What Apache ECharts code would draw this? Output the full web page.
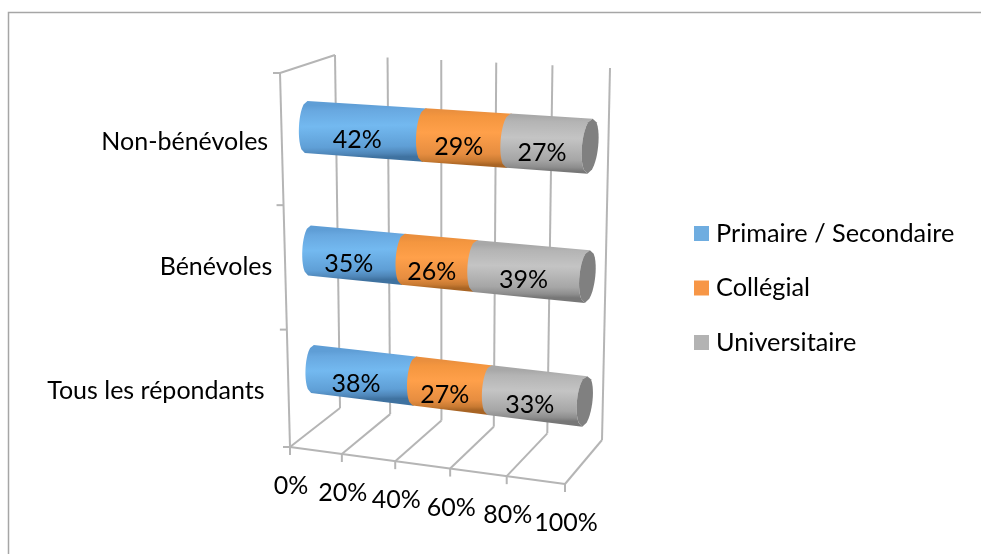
<!DOCTYPE html>
<html>
<head>
<meta charset="utf-8">
<style>
  html, body { margin: 0; padding: 0; background: #fff; }
  #chart { width: 981px; height: 554px; }
</style>
<script src="https://cdn.jsdelivr.net/npm/echarts@6/dist/echarts.min.js"></script>
</head>
<body>
<div id="chart"></div>
<script>
const categories = ['Tous les répondants', 'Bénévoles', 'Non-bénévoles']
const primaire = [38, 35, 42]
const collegial = [27, 26, 29]
const universitaire = [33, 39, 27]
const xTicks = [0, 20, 40, 60, 80, 100]
const xTickLabels = ['0%', '20%', '40%', '60%', '80%', '100%']

const FONT = 'Lato, "Noto Sans", sans-serif'
const GRID = { left: 300, top: 70, width: 300, height: 400 }

// perspective: unit square -> quad (tl, tr, br, bl)
const makeQuad = (tl, tr, br, bl) => {
  const dx1 = tr[0] - br[0], dx2 = bl[0] - br[0], sx = tl[0] - tr[0] + br[0] - bl[0]
  const dy1 = tr[1] - br[1], dy2 = bl[1] - br[1], sy = tl[1] - tr[1] + br[1] - bl[1]
  const det = dx1 * dy2 - dx2 * dy1
  const g = (sx * dy2 - dx2 * sy) / det
  const h = (dx1 * sy - sx * dy1) / det
  const a = tr[0] - tl[0] + g * tr[0], b = bl[0] - tl[0] + h * bl[0]
  const d = tr[1] - tl[1] + g * tr[1], e = bl[1] - tl[1] + h * bl[1]
  return (u, v) => {
    const w = g * u + h * v + 1
    return [(a * u + b * v + tl[0]) / w, (d * u + e * v + tl[1]) / w]
  }
}

const barPlane = makeQuad([304.5, 63.5], [591.5, 79], [583.5, 462], [314, 426.5])
const backWall = makeQuad([335, 55], [610, 68], [602, 440], [340, 408])
const floor = makeQuad([340, 408], [602, 440], [565, 484], [290, 447])
const sideWall = makeQuad([280, 73], [335, 55], [340, 408], [290, 447])

const toUnit = p => [(p[0] - GRID.left) / GRID.width, (p[1] - GRID.top) / GRID.height]

const line = (a, b) => ({
  type: 'line',
  shape: { x1: a[0], y1: a[1], x2: b[0], y2: b[1] },
  style: { stroke: '#b5b5b5', lineWidth: 2 }
})

const text = (str, x, y, align) => ({
  type: 'text',
  x, y,
  z2: 10,
  style: { text: str, fontFamily: FONT, fontSize: 25, fill: '#000', align: align || 'center', verticalAlign: 'middle' }
})

const renderFrame = (params, api) => {
  const u = toUnit(api.coord([api.value(0), 0]))[0]
  const back0 = backWall(u, 0), back1 = backWall(u, 1)
  const floorFront = floor(u, 1)
  return {
    type: 'group',
    children: [
      line(back0, back1),
      line(back1, floorFront),
      line(floorFront, [floorFront[0], floorFront[1] + 8]),
      text(xTickLabels[params.dataIndex], floorFront[0] + 1, floorFront[1] + 39)
    ]
  }
}

// left wall, floor edge and the category labels
const catLabelOffset = [[-48, 22], [-37, 16], [-38, 15]]
const renderWalls = (params, api) => {
  const children = [
    line(sideWall(0, 0), sideWall(1, 0)),
    line(sideWall(0, 0), sideWall(0, 1)),
    line(floor(0, 1), floor(1, 1))
  ]
  for (let i = 0; i <= categories.length; i++) {
    const p = sideWall(0, 1 - i / categories.length)
    children.push(line([p[0] - 7, p[1]], p))
  }
  categories.forEach((name, c) => {
    const uv = toUnit(api.coord([0, c]))
    const p = barPlane(uv[0], uv[1])
    children.push(text(name, p[0] + catLabelOffset[c][0], p[1] + catLabelOffset[c][1], 'right'))
  })
  return { type: 'group', children }
}

const stops = list => list.map(s => ({ offset: s[0], color: s[1] }))
const shades = {
  blue: stops([[0, '#5f9ed6'], [0.1, '#68a8e0'], [0.4, '#73b9f0'], [0.8, '#5f9fd6'], [0.93, '#4f86b8'], [1, '#3f72a0']]),
  orange: stops([[0, '#ea8f3e'], [0.1, '#f4963f'], [0.4, '#ffa04a'], [0.8, '#e68d40'], [0.93, '#c87a32'], [1, '#a86424']]),
  gray: stops([[0, '#a8a8a8'], [0.1, '#b4b4b4'], [0.4, '#c4c4c4'], [0.8, '#a6a6a6'], [0.93, '#8e8e8e'], [1, '#777777']])
}

const renderSegment = (shade, isLast) => (params, api) => {
  const band = api.size([0, 1])[1]
  const unitX = api.size([1, 0])[0]
  const halfH = band * 0.207
  const bulge = unitX * 2.7
  const cat = api.value(2)

  const at = (val, dy) => {
    const p = api.coord([val, cat])
    const uv = toUnit([p[0], p[1] + dy])
    return barPlane(uv[0], uv[1])
  }
  // point on the round edge of the cylinder, t from -1 (top) to 1 (bottom)
  const rim = (val, t) => {
    const s = Math.sqrt(Math.max(0, 1 - t * t))
    const p = api.coord([val, cat])
    const uv = toUnit([p[0] - s * bulge, p[1] + t * halfH])
    const q = barPlane(uv[0], uv[1])
    return [q[0] - t * 2, q[1]]
  }

  const start = api.value(0), end = api.value(1)
  // a little overlap under the next segment, no hairline at the seam
  const rightEdge = isLast ? end : end + 0.5
  const points = []
  const steps = 14
  for (let i = 0; i <= steps; i++) points.push(rim(start, -1 + 2 * i / steps))
  for (let i = 0; i <= steps; i++) points.push(rim(rightEdge, 1 - 2 * i / steps))

  const mid = (start + end) / 2
  const topP = at(mid, -halfH), botP = at(mid, halfH)
  const centre = at(mid, 0)
  const children = [{
    type: 'polygon',
    shape: { points },
    style: {
      fill: new echarts.graphic.LinearGradient(topP[0], topP[1], botP[0], botP[1], shade, true)
    }
  }]
  if (isLast) {
    const cap = []
    for (let i = 0; i <= steps; i++) cap.push(rim(end, -1 + 2 * i / steps))
    for (let i = 0; i <= steps; i++) {
      const t = 1 - 2 * i / steps
      const r = rim(end, t), l = at(end, t * halfH)
      cap.push([2 * l[0] - r[0] - 4 * t, r[1]])
    }
    children.push({ type: 'polygon', shape: { points: cap }, style: { fill: '#808080' } })
  }
  children.push(text(api.value(3) + '%', centre[0] - 7, centre[1] + 9))
  return { type: 'group', children }
}

// bars are 100% stacked, the labels keep the rounded values
const stacked = (values, before) => values.map((v, c) => {
  const total = primaire[c] + collegial[c] + universitaire[c]
  const base = before.reduce((sum, arr) => sum + arr[c], 0)
  return [base / total * 100, (base + v) / total * 100, c, v]
})

const makeSeries = (name, values, before, color, shade, isLast) => ({
  name,
  type: 'custom',
  coordinateSystem: 'cartesian2d',
  clip: false,
  silent: true,
  z: 5,
  itemStyle: { color },
  encode: { x: [0, 1], y: 2 },
  data: stacked(values, before),
  renderItem: renderSegment(shade, isLast)
})

const chart = echarts.init(document.getElementById('chart'))

chart.setOption({
  animation: false,
  backgroundColor: '#fff',
  graphic: [{
    type: 'rect',
    shape: { x: 8.5, y: 12.5, width: 1000, height: 600 },
    style: { fill: 'none', stroke: '#a6a6a6', lineWidth: 1.5 },
    silent: true
  }],
  grid: GRID,
  xAxis: { type: 'value', min: 0, max: 100, interval: 20, show: false },
  yAxis: { type: 'category', data: categories, show: false },
  legend: {
    data: ['Primaire / Secondaire', 'Collégial', 'Universitaire'],
    orient: 'vertical',
    left: 689,
    top: 216,
    itemWidth: 15,
    itemHeight: 15,
    itemGap: 29.5,
    icon: 'rect',
    selectedMode: false,
    textStyle: { fontFamily: FONT, fontSize: 25.3, color: '#000', padding: [0, 0, 0, 2] }
  },
  series: [
    {
      name: 'frame',
      type: 'custom',
      coordinateSystem: 'cartesian2d',
      clip: false,
      silent: true,
      z: 1,
      encode: { x: 0, y: 1 },
      data: xTicks.map(t => [t, 0]),
      renderItem: renderFrame
    },
    {
      name: 'walls',
      type: 'custom',
      coordinateSystem: 'cartesian2d',
      clip: false,
      silent: true,
      z: 1,
      encode: { x: 0, y: 1 },
      data: [[0, 0]],
      renderItem: renderWalls
    },
    makeSeries('Primaire / Secondaire', primaire, [], '#6fade0', shades.blue, false),
    makeSeries('Collégial', collegial, [primaire], '#f79646', shades.orange, false),
    makeSeries('Universitaire', universitaire, [primaire, collegial], '#b3b3b3', shades.gray, true)
  ]
})

window.addEventListener('resize', () => {
  chart?.resize()
})
</script>
</body>
</html>
